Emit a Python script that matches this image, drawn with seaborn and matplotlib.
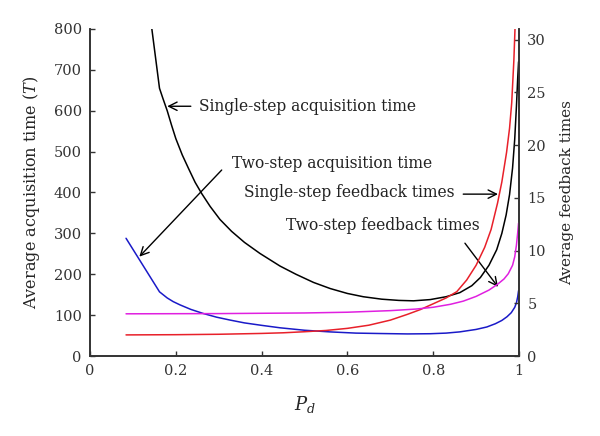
import numpy as np
import pandas as pd
import matplotlib
matplotlib.use("Agg")
import matplotlib.pyplot as plt
import seaborn as sns

# ---------------- data ----------------
single_acq_x = [0.084, 0.162, 0.17, 0.18, 0.19, 0.20, 0.215, 0.23, 0.245, 0.26, 0.28, 0.303,
                0.33, 0.36, 0.396, 0.443, 0.48, 0.521, 0.56, 0.60, 0.637, 0.68, 0.72, 0.754,
                0.793, 0.83, 0.862, 0.89, 0.91, 0.93, 0.948, 0.96, 0.97, 0.978, 0.985,
                0.99, 0.994, 0.997, 0.999]
single_acq_y = [1290, 655, 630, 600, 565, 532, 492, 458, 425, 398, 366, 334,
                305, 278, 251, 220, 200, 180, 165, 153, 145, 139, 136, 135,
                138, 145, 155, 172, 192, 222, 260, 300, 345, 395, 460,
                530, 610, 680, 720]

two_acq_x = [0.084, 0.162, 0.18, 0.194, 0.21, 0.235, 0.264, 0.295, 0.326, 0.36, 0.40, 0.443,
             0.50, 0.559, 0.62, 0.676, 0.74, 0.793, 0.83, 0.862, 0.90, 0.925, 0.945,
             0.96, 0.972, 0.982, 0.99, 0.994, 0.997, 0.999]
two_acq_y = [288, 157, 142, 133, 125, 114, 104, 95, 88, 81, 75, 69,
             63, 59, 56, 55, 54, 54.5, 56, 59, 65, 71, 79,
             87, 96, 106, 119, 130, 145, 160]

single_fb_x = [0.084, 0.20, 0.30, 0.40, 0.45, 0.50, 0.55, 0.60, 0.65, 0.70, 0.74, 0.77,
               0.80, 0.83, 0.855, 0.878, 0.90, 0.92, 0.935, 0.95, 0.96, 0.971, 0.978,
               0.983, 0.988, 0.992]
single_fb_y = [2.0, 2.02, 2.06, 2.14, 2.2, 2.3, 2.42, 2.62, 2.92, 3.4, 3.95, 4.4,
               4.95, 5.5, 6.1, 7.2, 8.6, 10.3, 12.0, 14.5, 16.5, 19.3, 21.6,
               24.0, 28.0, 32.5]

two_fb_x = [0.084, 0.30, 0.50, 0.60, 0.70, 0.76, 0.80, 0.84, 0.87, 0.90, 0.93, 0.95,
            0.965, 0.975, 0.985, 0.99, 0.994, 0.997, 0.999]
two_fb_y = [4.0, 4.02, 4.08, 4.15, 4.3, 4.45, 4.62, 4.9, 5.2, 5.65, 6.25, 6.8,
            7.3, 7.8, 8.6, 9.4, 10.5, 11.7, 12.6]

x_ticks = [0, 0.2, 0.4, 0.6, 0.8, 1]
x_ticklabels = ["0", "0.2", "0.4", "0.6", "0.8", "1"]
left_ticks = [0, 100, 200, 300, 400, 500, 600, 700, 800]
right_ticks = [0, 5, 10, 15, 20, 25, 30]

labels = {
    "single_acq": "Single-step acquisition time",
    "two_acq": "Two-step acquisition time",
    "single_fb": "Single-step feedback times",
    "two_fb": "Two-step feedback times",
}

# ---------------- style ----------------
sns.set_theme(style="ticks")
plt.rcParams["font.family"] = ["DejaVu Serif"]
plt.rcParams["mathtext.fontset"] = "dejavuserif"
plt.rcParams["axes.edgecolor"] = "#333333"
plt.rcParams["xtick.color"] = "#333333"
plt.rcParams["ytick.color"] = "#333333"
plt.rcParams["text.color"] = "#222222"

fig = plt.figure(figsize=(6.0, 4.36), dpi=100)
ax = fig.add_axes([90 / 600, 1 - 356 / 436, 429 / 600, 327 / 436])
ax2 = ax.twinx()

lw = 1.1
sns.lineplot(data=pd.DataFrame({"x": single_acq_x, "y": single_acq_y}), x="x", y="y",
             ax=ax, color="black", lw=lw)
sns.lineplot(data=pd.DataFrame({"x": two_acq_x, "y": two_acq_y}), x="x", y="y",
             ax=ax, color="#1a1ac8", lw=lw)
sns.lineplot(data=pd.DataFrame({"x": single_fb_x, "y": single_fb_y}), x="x", y="y",
             ax=ax2, color="#e8202a", lw=lw)
sns.lineplot(data=pd.DataFrame({"x": two_fb_x, "y": two_fb_y}), x="x", y="y",
             ax=ax2, color="#e020e0", lw=lw)

ax.set_xlim(0, 1)
ax.set_ylim(0, 800)
ax2.set_ylim(0, 31.0)

fs = 10.5
afs = 11.2
ax.set_xticks(x_ticks)
ax.set_xticklabels(x_ticklabels)
ax.set_yticks(left_ticks)
ax2.set_yticks(right_ticks)
for a in (ax, ax2):
    a.tick_params(direction="in", length=3.5, width=1, labelsize=fs, pad=6)
    a.spines["top"].set_visible(False)
    for s in a.spines.values():
        s.set_linewidth(1.2)

ax.set_xlabel("$P_d$", fontsize=13, labelpad=11)
ax.set_ylabel("Average acquisition time ($T$)", fontsize=11.6, labelpad=8)
ax2.set_ylabel("Average feedback times", fontsize=11, labelpad=10)
ax2.yaxis.label.set_rotation(90)

arrow = dict(arrowstyle="->", color="black", lw=1.0, mutation_scale=15,
             shrinkA=0, shrinkB=0)

ax.text(0.254, 611, labels["single_acq"], fontsize=afs, ha="left", va="center")
ax.annotate("", xy=(0.180, 611), xytext=(0.235, 611), arrowprops=arrow)

ax.text(0.330, 472, labels["two_acq"], fontsize=afs, ha="left", va="center")
ax.annotate("", xy=(0.115, 243), xytext=(0.307, 455), arrowprops=arrow)

ax.text(0.359, 399, labels["single_fb"], fontsize=afs, ha="left", va="center")
ax.annotate("", xy=(0.951, 396), xytext=(0.870, 396), arrowprops=arrow)

ax.text(0.458, 320, labels["two_fb"], fontsize=afs, ha="left", va="center")
ax.annotate("", xy=(0.951, 169), xytext=(0.874, 276), arrowprops=arrow)

fig.savefig("out.png", dpi=100)
